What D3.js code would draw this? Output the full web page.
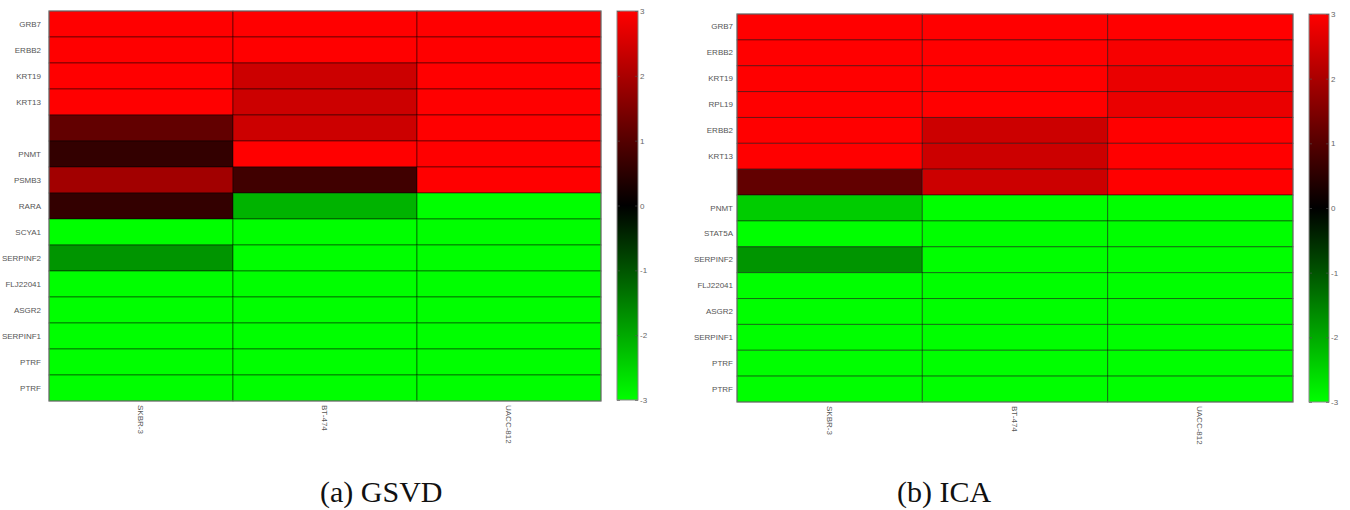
<!DOCTYPE html>
<html>
<head>
<meta charset="utf-8">
<script src="https://cdn.jsdelivr.net/npm/d3@7"></script>
<style>
  body { margin: 0; background: #fff; }
  svg { display: block; }
</style>
</head>
<body>
<svg id="chart" width="1350" height="510"></svg>
<script>
// ---------------- data ----------------
const samples = ["SKBR-3", "BT-474", "UACC-812"];

const gsvdGenes = ["GRB7", "ERBB2", "KRT19", "KRT13", "", "PNMT", "PSMB3", "RARA",
  "SCYA1", "SERPINF2", "FLJ22041", "ASGR2", "SERPINF1", "PTRF", "PTRF"];
// columns: SKBR-3, BT-474, UACC-812
const gsvdSKBR3   = [3, 3, 3, 3, 1.15, 0.6, 1.9, 0.6, -3, -1.75, -3, -3, -3, -3, -3];
const gsvdBT474   = [3, 3, 2.4, 2.4, 2.4, 3, 0.75, -2.1, -3, -3, -3, -3, -3, -3, -3];
const gsvdUACC812 = [3, 3, 3, 3, 3, 3, 3, -3, -3, -3, -3, -3, -3, -3, -3];

const icaGenes = ["GRB7", "ERBB2", "KRT19", "RPL19", "ERBB2", "KRT13", "", "PNMT",
  "STAT5A", "SERPINF2", "FLJ22041", "ASGR2", "SERPINF1", "PTRF", "PTRF"];
const icaSKBR3   = [3, 3, 3, 3, 3, 3, 1.15, -2.4, -3, -1.75, -3, -3, -3, -3, -3];
const icaBT474   = [3, 3, 3, 3, 2.4, 2.4, 2.4, -3, -3, -3, -3, -3, -3, -3, -3];
const icaUACC812 = [3, 2.9, 2.75, 2.75, 3, 3, 3, -3, -3, -3, -3, -3, -3, -3, -3];

const colorTicks = [3, 2, 1, 0, -1, -2, -3];
const captions = ["(a) GSVD", "(b) ICA"];

// ---------------- drawing ----------------
const svg = d3.select("#chart");
const color = d3.scaleLinear().domain([-3, 0, 3]).range(["#00ff00", "#000000", "#ff0000"]).clamp(true);

const defs = svg.append("defs");
const grad = defs.append("linearGradient").attr("id", "cbar")
  .attr("x1", 0).attr("y1", 1).attr("x2", 0).attr("y2", 0);
d3.range(-3, 3.01, 0.25).forEach(v => {
  grad.append("stop").attr("offset", ((v + 3) / 6)).attr("stop-color", color(v));
});

function panel(cfg) {
  const g = svg.append("g");
  const x = d3.scaleBand().domain(samples).range([cfg.x0, cfg.x1]);
  const rowIdx = d3.range(cfg.genes.length);
  const y = d3.scaleBand().domain(rowIdx).range([cfg.y0, cfg.y1]);
  const cols = [cfg.c1, cfg.c2, cfg.c3];
  const cells = [];
  rowIdx.forEach(i => samples.forEach((s, j) => cells.push({ i, s, v: cols[j][i] })));

  g.selectAll("rect.cell").data(cells).join("rect")
    .attr("class", "cell")
    .attr("x", d => x(d.s)).attr("y", d => y(d.i))
    .attr("width", x.bandwidth()).attr("height", y.bandwidth())
    .attr("fill", d => color(d.v))
    .attr("stroke", "rgba(0,0,0,0.45)").attr("stroke-width", 1);

  g.append("rect")
    .attr("x", cfg.x0).attr("y", cfg.y0)
    .attr("width", cfg.x1 - cfg.x0).attr("height", cfg.y1 - cfg.y0)
    .attr("fill", "none").attr("stroke", "#777").attr("stroke-width", 1);

  // row labels
  const ya = d3.axisLeft(y).tickSize(0).tickPadding(cfg.labelPad).tickFormat(i => cfg.genes[i]);
  const yg = g.append("g").attr("transform", `translate(${cfg.x0},0)`).call(ya);
  yg.select(".domain").remove();
  yg.selectAll("text").attr("font-family", "Liberation Sans, Arial, sans-serif")
    .attr("font-size", 8).attr("fill", "#555");

  // column labels
  const xa = d3.axisBottom(x).tickSize(0).tickPadding(0);
  const xg = g.append("g").attr("transform", `translate(0,${cfg.y1})`).call(xa);
  xg.select(".domain").remove();
  xg.selectAll("text")
    .attr("font-family", "Liberation Sans, Arial, sans-serif")
    .attr("font-size", 8).attr("fill", "#555")
    .attr("text-anchor", "start")
    .attr("dy", null).attr("y", 0)
    .attr("transform", "translate(-3,4) rotate(90)");

  // colorbar
  const cb = svg.append("g");
  cb.append("rect").attr("x", cfg.cbx0).attr("y", cfg.y0)
    .attr("width", cfg.cbx1 - cfg.cbx0).attr("height", cfg.cby1 - cfg.y0)
    .attr("fill", "url(#cbar)").attr("stroke", "#888").attr("stroke-width", 1);
  const cs = d3.scaleLinear().domain([-3, 3]).range([cfg.cby1, cfg.y0]);
  const ra = d3.axisRight(cs).tickValues(colorTicks).tickSize(-3).tickPadding(6).tickFormat(d => String(d));
  const rg = cb.append("g").attr("transform", `translate(${cfg.cbx1},0)`).call(ra);
  rg.select(".domain").remove();
  rg.selectAll("line").attr("stroke", "#555").attr("stroke-opacity", 0.6);
  rg.selectAll("text").attr("font-family", "Liberation Sans, Arial, sans-serif")
    .attr("font-size", 8).attr("fill", "#666").attr("x", 2);
  const la = d3.axisLeft(cs).tickValues(colorTicks).tickSize(-3).tickFormat("");
  const lg = cb.append("g").attr("transform", `translate(${cfg.cbx0},0)`).call(la);
  lg.select(".domain").remove();
  lg.selectAll("line").attr("stroke", "#555").attr("stroke-opacity", 0.6);

  // caption
  svg.append("text").attr("x", cfg.capX).attr("y", 502)
    .attr("font-family", "Liberation Serif, Times New Roman, serif")
    .attr("font-size", 30).attr("fill", "#111")
    .text(cfg.caption);
}

panel({
  genes: gsvdGenes, c1: gsvdSKBR3, c2: gsvdBT474, c3: gsvdUACC812,
  x0: 49, x1: 601, y0: 11, y1: 401, labelPad: 8,
  cbx0: 617, cbx1: 638, cby1: 400, capX: 320, caption: captions[0]
});
panel({
  genes: icaGenes, c1: icaSKBR3, c2: icaBT474, c3: icaUACC812,
  x0: 737, x1: 1293, y0: 14, y1: 402, labelPad: 4,
  cbx0: 1309, cbx1: 1329, cby1: 402, capX: 897, caption: captions[1]
});
</script>
</body>
</html>
